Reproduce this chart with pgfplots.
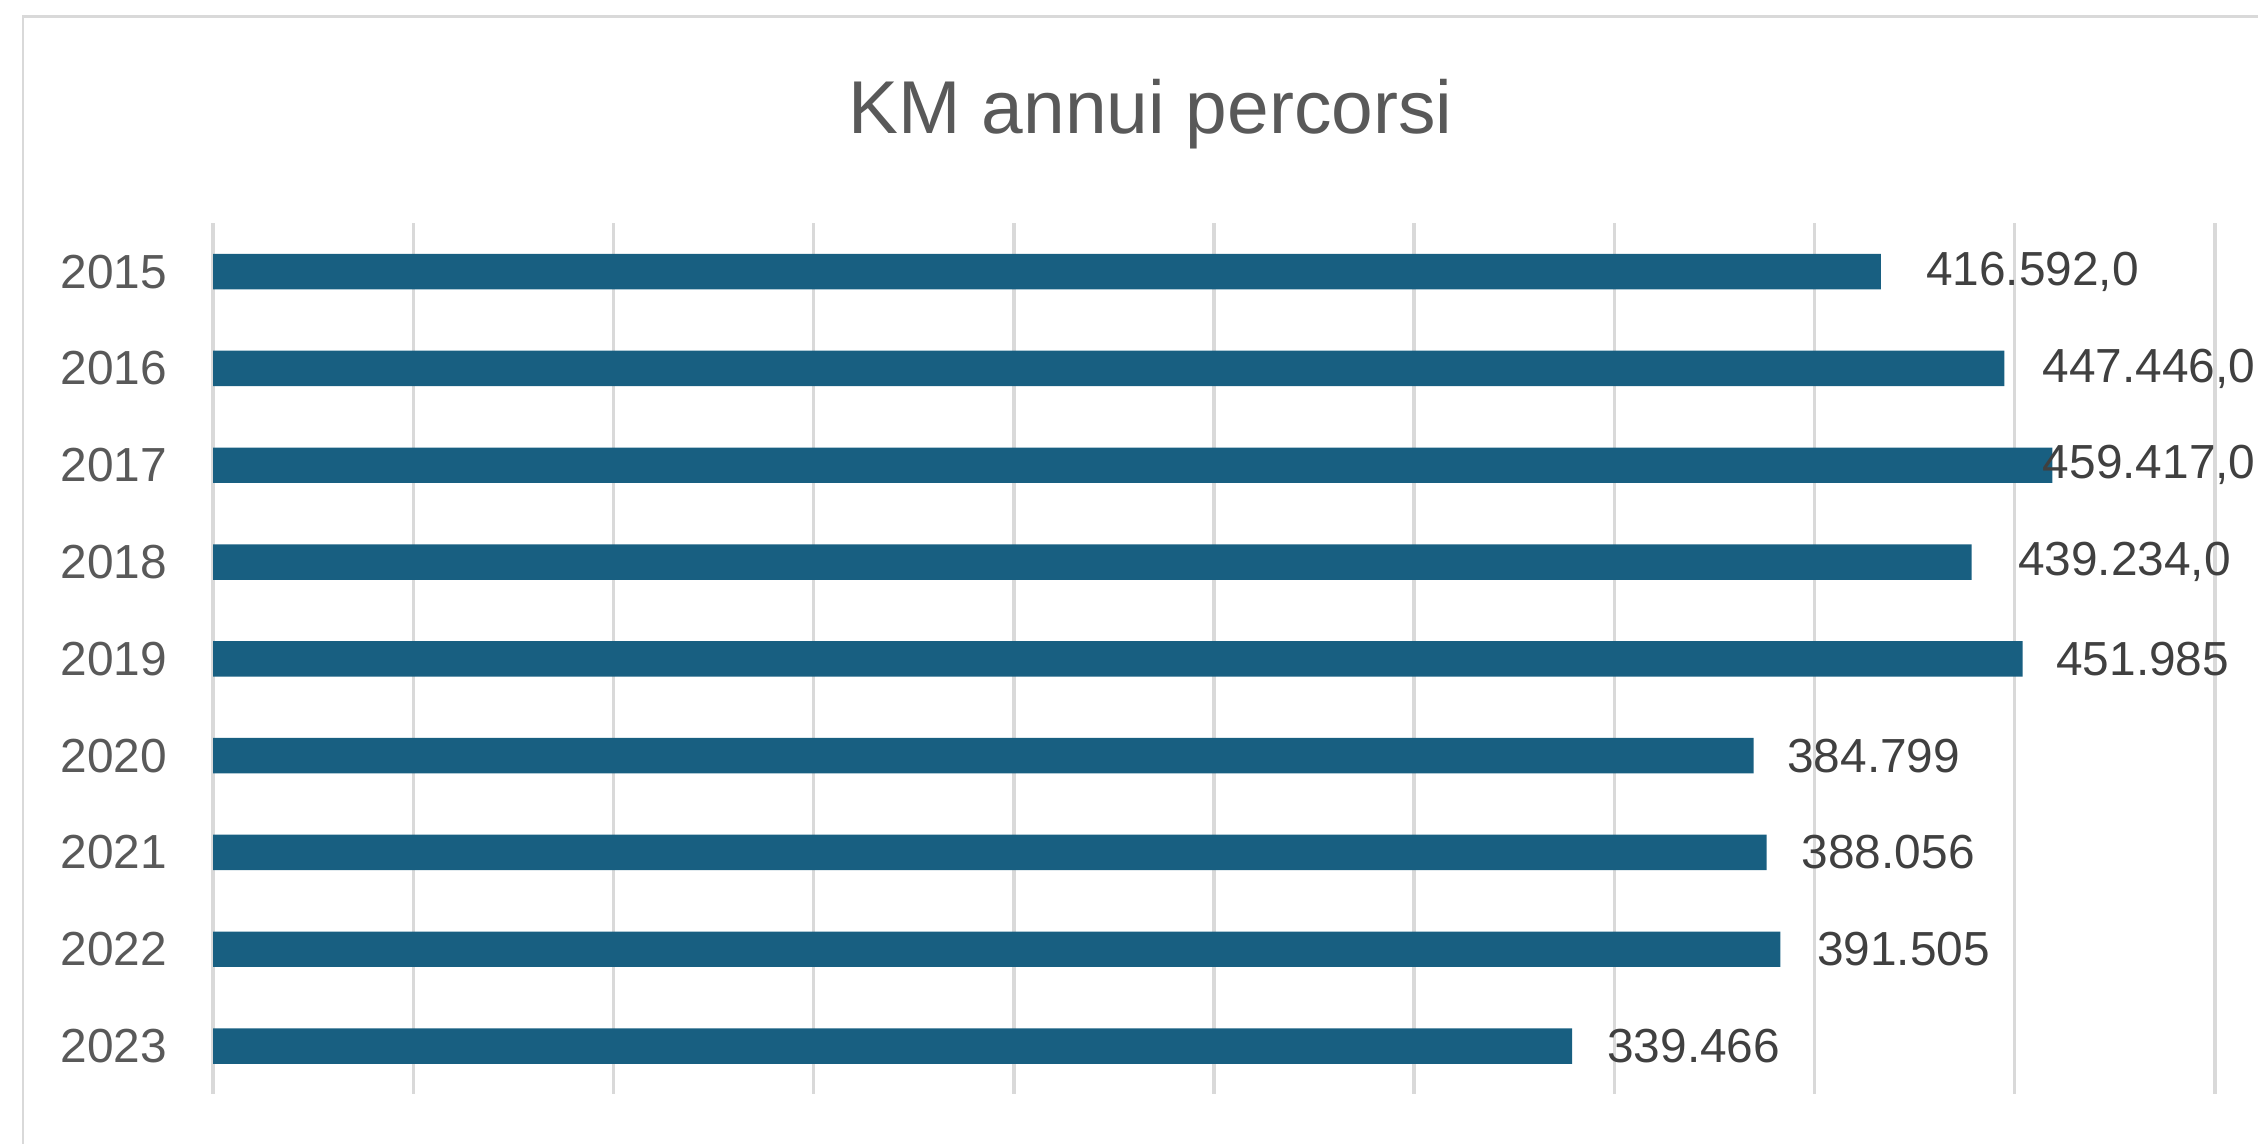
\documentclass[border=0pt]{standalone}
\usepackage{pgfplots}
\pgfplotsset{compat=1.18}
\usepackage{pgfplotstable}
\usepackage{fontspec}
\setmainfont{Liberation Sans}
\definecolor{barblue}{RGB}{24,95,129}
\definecolor{gridgray}{RGB}{217,217,217}
\definecolor{titlegray}{RGB}{89,89,89}
\definecolor{labelgray}{RGB}{64,64,64}
\pgfplotstableread{
y x label dx
1 416592 {416.592,0} 15.5
2 447446 {447.446,0} 13
3 459417 {459.417,0} -3.5
4 439234 {439.234,0} 16
5 451985 {451.985} 11.5
6 384799 {384.799} 11.5
7 388056 {388.056} 12
8 391505 {391.505} 12.5
9 339466 {339.466} 12
}\kmdata
\begin{document}
\begin{tikzpicture}
\useasboundingbox (0,0) rectangle (784pt,397pt);
\draw[gridgray, line width=1pt] (8pt,-5pt) -- (8pt,391.2pt) -- (800pt,391.2pt);
\node[font=\fontsize{26}{30}\selectfont, text=titlegray, anchor=base] at (399.5pt,350.5pt) {KM annui percorsi};
\begin{axis}[
  at={(74pt,17pt)}, anchor=south west,
  scale only axis, width=695pt, height=302.5pt,
  xmin=0, xmax=500000, ymin=0.5, ymax=9.5,
  enlargelimits=false,
  scaled x ticks=false,
  y dir=reverse,
  xbar, bar width=12.3pt, bar shift=0pt,
  xtick={0,50000,...,500000}, xticklabels={},
  ytick={1,...,9},
  yticklabels={2015,2016,2017,2018,2019,2020,2021,2022,2023},
  yticklabel style={font=\fontsize{16.6}{19}\selectfont, text=titlegray, anchor=east, inner sep=0pt, xshift=-11.5pt},
  xmajorgrids, grid style={gridgray, line width=1.2pt},
  axis line style={draw=none},
  major tick style={draw=none},
  clip=false,
  point meta=explicit symbolic,
  visualization depends on={\thisrow{dx} \as \dx},
  nodes near coords,
  nodes near coords style={anchor=west, inner sep=0pt, xshift=\dx pt, font=\fontsize{16.6}{19}\selectfont, text=labelgray},
]
\addplot[fill=barblue, draw=none] table[x=x, y=y, meta=label] {\kmdata};
\end{axis}
\end{tikzpicture}
\end{document}
